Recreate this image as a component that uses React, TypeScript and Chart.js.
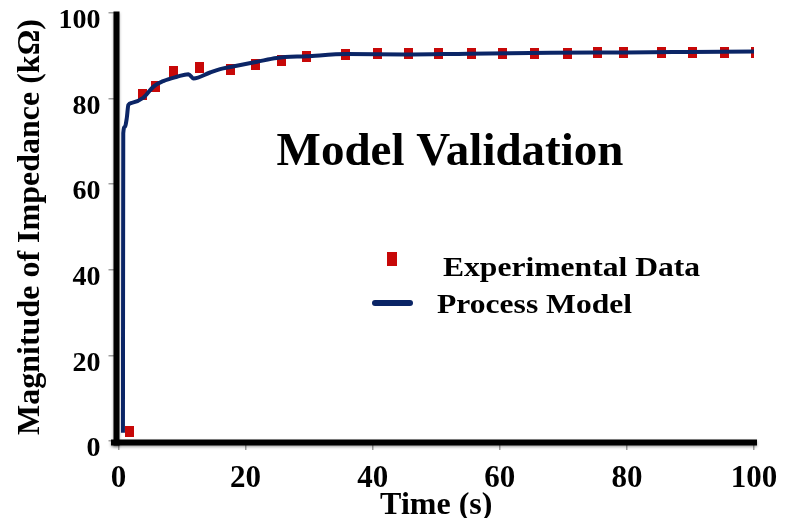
import React, { useEffect, useRef } from 'react';
import { Chart, registerables } from 'chart.js';

Chart.register(...registerables);

// ---- data ----
const expTime = [1.7, 3.8, 5.75, 8.7, 12.7, 17.7, 21.6, 25.7, 29.6, 35.7, 40.7, 45.6, 50.4, 55.5, 60.5, 65.4, 70.6, 75.3, 79.4, 85.4, 90.4, 95.3, 100.2];
const expImpedance = [2.2, 81.0, 82.8, 86.4, 87.2, 86.9, 87.9, 89.0, 89.8, 90.4, 90.5, 90.5, 90.5, 90.6, 90.6, 90.6, 90.6, 90.7, 90.7, 90.7, 90.7, 90.8, 90.8];
const modelTime = [0.7, 0.75, 1.0, 1.3, 1.55, 2.1, 3.9, 5.5, 7.05, 9.2, 11.0, 11.8, 14.4, 16.0, 17.6, 21.8, 24.9, 29.6, 36, 45, 55, 68, 80, 90, 100];
const modelImpedance = [1.9, 71.9, 73.4, 75.4, 78.5, 79.0, 80.2, 82.8, 84.1, 85.1, 85.7, 84.7, 86.1, 86.9, 87.4, 88.6, 89.5, 89.9, 90.4, 90.3, 90.5, 90.7, 90.8, 90.9, 91.0];
const xTicks = [0, 20, 40, 60, 80, 100];
const yTicks = [0, 20, 40, 60, 80, 100];
const seriesNames = ['Experimental Data', 'Process Model'];
const chartTitle = 'Model Validation';
const xTitle = 'Time (s)';
const yTitle = 'Magnitude of Impedance (kΩ)';

const RED = '#c70808';
const NAVY = '#0b2566';
const FONT = '"Liberation Serif", "Times New Roman", serif';

function makeRect(w: number, h: number, color: string) {
  const c = document.createElement('canvas');
  c.width = w;
  c.height = h;
  const g = c.getContext('2d')!;
  g.fillStyle = color;
  g.fillRect(0, 0, w, h);
  return c;
}

export default function App() {
  const ref = useRef<HTMLCanvasElement | null>(null);

  useEffect(() => {
    if (!ref.current) return;
    const pointImg = makeRect(9, 11, RED);
    const legendImg = makeRect(10, 14, RED);

    const decor = {
      id: 'decor',
      beforeDatasetsDraw(chart: any) {
        const { ctx, chartArea: a } = chart;
        ctx.save();
        ctx.shadowColor = 'rgba(0,0,0,0.35)';
        ctx.shadowBlur = 3;
        ctx.shadowOffsetY = 1.5;
        ctx.fillStyle = '#000';
        ctx.fillRect(a.left - 5, a.top - 1.5, 6, a.bottom - a.top + 6);
        ctx.fillRect(a.left - 7.5, a.bottom - 1.5, a.right - a.left + 10.5, 6);
        ctx.restore();
      },
      afterDraw(chart: any) {
        const { ctx } = chart;
        ctx.save();
        ctx.fillStyle = '#000';
        ctx.textBaseline = 'alphabetic';
        ctx.textAlign = 'center';
        ctx.font = `bold 47px ${FONT}`;
        ctx.fillText(chartTitle, 450, 165);

        // legend
        ctx.drawImage(legendImg, 387, 252);
        ctx.strokeStyle = NAVY;
        ctx.lineWidth = 6;
        ctx.lineCap = 'round';
        ctx.beginPath();
        ctx.moveTo(375, 303);
        ctx.lineTo(410, 303);
        ctx.stroke();

        ctx.textAlign = 'left';
        ctx.font = `bold 27px ${FONT}`;
        ctx.save();
        ctx.translate(443, 276);
        ctx.scale(1.17, 1);
        ctx.fillText(seriesNames[0], 0, 0);
        ctx.restore();
        ctx.save();
        ctx.translate(437, 312.5);
        ctx.scale(1.17, 1);
        ctx.fillText(seriesNames[1], 0, 0);
        ctx.restore();
        ctx.restore();
      },
    };

    const chart = new Chart(ref.current, {
      type: 'scatter',
      data: {
        datasets: [
          {
            label: seriesNames[0],
            type: 'scatter',
            data: expTime.map((t, i) => ({ x: t, y: expImpedance[i] })),
            pointStyle: pointImg as any,
            pointRadius: 5,
            order: 2,
          },
          {
            label: seriesNames[1],
            type: 'line',
            data: modelTime.map((t, i) => ({ x: t, y: modelImpedance[i] })),
            showLine: true,
            borderColor: NAVY,
            borderWidth: 4,
            pointRadius: 0,
            cubicInterpolationMode: 'monotone',
            borderJoinStyle: 'round',
            fill: false,
            order: 1,
          } as any,
        ],
      },
      options: {
        responsive: false,
        animation: false,
        events: [],
        layout: { padding: { left: 0, right: 41, top: 13, bottom: 0 } },
        plugins: {
          legend: { display: false },
          title: { display: false },
          tooltip: { enabled: false },
        },
        scales: {
          x: {
            type: 'linear',
            min: 0,
            max: 100,
            afterBuildTicks: (s: any) => {
              s.ticks = xTicks.map((v) => ({ value: v }));
            },
            afterFit: (s: any) => {
              s.height = 77;
              s.paddingLeft = 0;
              s.paddingRight = 0;
            },
            border: { display: false },
            grid: {
              drawOnChartArea: false,
              drawTicks: true,
              tickLength: 9,
              color: '#a0a0a0',
              lineWidth: 1.5,
            },
            ticks: {
              color: '#000',
              padding: 10,
              maxRotation: 0,
              font: { family: FONT, size: 31, weight: 'bold' },
            },
            title: {
              display: true,
              text: xTitle,
              color: '#000',
              padding: { top: 0, bottom: -4 },
              font: { family: FONT, size: 32, weight: 'bold', lineHeight: 1 },
            },
          },
          y: {
            type: 'linear',
            min: 0,
            max: 100,
            afterBuildTicks: (s: any) => {
              s.ticks = yTicks.map((v) => ({ value: v }));
            },
            afterFit: (s: any) => {
              s.width = 118.5;
              s.paddingTop = 0;
              s.paddingBottom = 0;
            },
            border: { display: false },
            grid: {
              drawOnChartArea: false,
              drawTicks: true,
              tickLength: 10,
              color: '#a0a0a0',
              lineWidth: 1.5,
            },
            ticks: {
              color: '#000',
              padding: 8,
              labelOffset: 8,
              font: { family: FONT, size: 28, weight: 'bold' },
            },
            title: {
              display: true,
              text: yTitle,
              color: '#000',
              padding: { top: 15, bottom: 0 },
              font: { family: FONT, size: 32, weight: 'bold', lineHeight: 1 },
            },
          },
        },
      } as any,
      plugins: [decor],
    });

    return () => chart.destroy();
  }, []);

  return (
    <div style={{ position: 'absolute', left: 0, top: 0, width: 795, height: 518, background: '#fff' }}>
      <canvas ref={ref} width={795} height={518} style={{ width: 795, height: 518, display: 'block' }} />
    </div>
  );
}
